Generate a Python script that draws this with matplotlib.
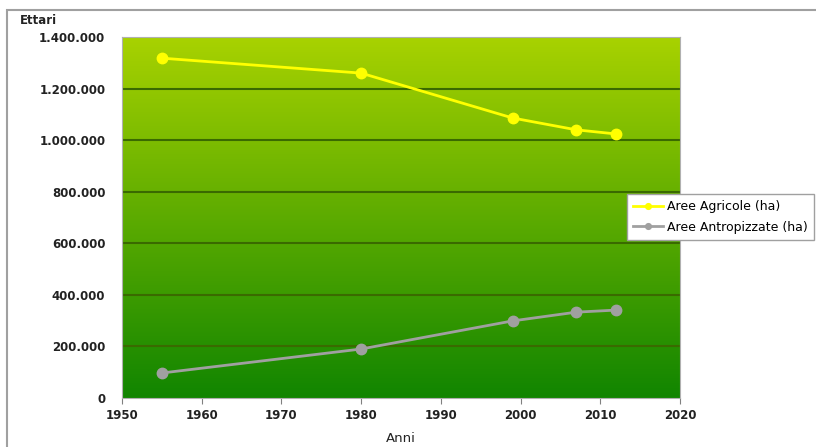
import numpy as np
import matplotlib.pyplot as plt
from matplotlib.patches import Rectangle
from matplotlib.ticker import FuncFormatter
from matplotlib.colors import LinearSegmentedColormap

# -------------------------
# Data
# -------------------------

anni = [1955, 1980, 1999, 2007, 2012]
aree_agricole = [1318000, 1260000, 1086000, 1040000, 1024000]
aree_antropizzate = [97000, 190000, 299000, 333000, 341000]

x_ticks = [1950, 1960, 1970, 1980, 1990, 2000, 2010, 2020]
y_ticks = [0, 200000, 400000, 600000, 800000, 1000000, 1200000, 1400000]

# -------------------------
# Figure
# -------------------------

fig = plt.figure(figsize=(8.16, 4.47), dpi=100)
ax = fig.add_axes([0.1495, 0.1096, 0.6838, 0.8076])

# outer frame of the chart
fig.patches.append(Rectangle((7 / 816, -0.1), 1.2, 1.1 - 10 / 447,
                             transform=fig.transFigure, fill=False,
                             edgecolor="#a0a0a0", linewidth=1.5, zorder=0))

# gradient background of plot area
grad = LinearSegmentedColormap.from_list("bg", ["#a8d200", "#118500"])
ax.imshow(np.linspace(0, 1, 256).reshape(-1, 1), cmap=grad, aspect="auto",
          extent=[1950, 2020, 0, 1400000], origin="upper", zorder=0)

ax.set_xlim(1950, 2020)
ax.set_ylim(0, 1400000)

for yv in y_ticks[1:-1]:
    ax.axhline(yv, color="#3a6a00", linewidth=1.5, zorder=1)

ax.plot(anni, aree_agricole, color="#ffff00", linewidth=2, marker="o",
        markersize=7.5, label="Aree Agricole (ha)", zorder=3)
ax.plot(anni, aree_antropizzate, color="#a0a0a0", linewidth=2, marker="o",
        markersize=7.5, label="Aree Antropizzate (ha)", zorder=3)

ax.set_xticks(x_ticks)
ax.set_yticks(y_ticks)
ax.yaxis.set_major_formatter(FuncFormatter(lambda v, p: f"{int(v):,}".replace(",", ".")))

for lab in ax.get_xticklabels() + ax.get_yticklabels():
    lab.set_fontsize(8.5)
    lab.set_fontweight("bold")
    lab.set_color("#222222")

ax.tick_params(axis="x", length=4, color="#808080", pad=4)
ax.tick_params(axis="y", length=0, pad=12)

for s in ax.spines.values():
    s.set_color("#b0b0b0")

fig.text(20 / 816, 1 - 20 / 447, "Ettari", fontsize=8.5, fontweight="bold",
         color="#222222", va="center")
fig.text(401 / 816, 1 - 439 / 447, "Anni", fontsize=9.5, color="#222222",
         ha="center", va="center")

leg = fig.legend(loc="center left", bbox_to_anchor=(627 / 816, 1 - 217 / 447),
                 fontsize=9, frameon=True, fancybox=False, framealpha=1,
                 markerscale=0.55, handlelength=2.4, handletextpad=0.3,
                 borderpad=0.5, labelspacing=0.6, borderaxespad=0)
leg.get_frame().set_edgecolor("#a0a0a0")
leg.get_frame().set_linewidth(1)

plt.savefig("out.png", dpi=100)
